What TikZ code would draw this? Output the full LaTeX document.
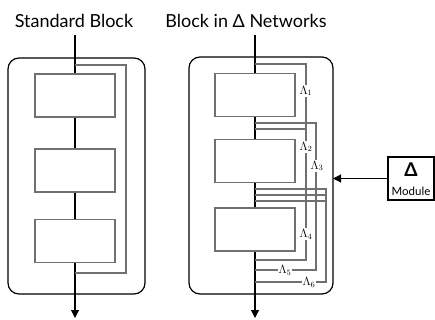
\documentclass[tikz,border=0pt]{standalone}
\usepackage{fontspec}
\setmainfont{Lato}
\usetikzlibrary{arrows.meta}
\definecolor{lg}{HTML}{707070}
\begin{document}
\begin{tikzpicture}[x=1pt,y=-1pt,
  mainline/.style={draw=black,line width=1.1pt},
  flow/.style={mainline,-{Triangle[length=8pt,width=8pt]}},
  panel/.style={draw=black,line width=1.2pt,rounded corners=11pt},
  layerbox/.style={draw=lg,fill=white,line width=1.4pt,minimum width=80pt,minimum height=43pt,inner sep=0pt},
  skip/.style={draw=lg,line width=1.3pt},
  lam/.style={fill=white,inner sep=1pt,font=\fontsize{11.5}{11.5}\selectfont},
  title/.style={anchor=base,font=\fontsize{18}{18}\selectfont},
  modbox/.style={draw=black,fill=white,line width=1.1pt,minimum width=46pt,minimum height=43pt,inner sep=0pt}
]
\useasboundingbox (0,0) rectangle (435,320);

% titles
\node[title] (t1) at (74,28) {Standard Block};
\node[title] (t2) at (246,28) {Block in Δ Networks};

% ---------- left panel ----------
\draw[panel] (8,58) rectangle (145,294);
\coordinate (lin) at (75,35);
\coordinate (lout) at (75,318);
\draw[flow] (lin) -- (lout);
\coordinate (ls0) at (75,65);
\coordinate (ls1) at (75,273);
\draw[skip] (ls0) -- ++(51,0) |- (ls1);
\node[layerbox] (lb1) at (75,95.5) {};
\node[layerbox] (lb2) at (75,170.5) {};
\node[layerbox] (lb3) at (75,241) {};

% ---------- right panel ----------
\draw[panel] (189,57) rectangle (333,294);
\coordinate (rin) at (255,35);
\coordinate (rout) at (255,318);
\draw[flow] (rin) -- (rout);

\coordinate (r0) at (255,64);
\coordinate (r1a) at (255,123);
\coordinate (r1b) at (255,129);
\coordinate (r2a) at (255,189);
\coordinate (r2b) at (255,195);
\coordinate (r2c) at (255,201);
\coordinate (r3a) at (255,260);
\coordinate (r3b) at (255,270);
\coordinate (r3c) at (255,282);

\coordinate (v1t) at (306,64);
\coordinate (v1b) at (306,260);
\coordinate (v2t) at (316,123);
\coordinate (v2b) at (316,270);
\coordinate (v3t) at (326,189);
\coordinate (v3b) at (326,282);

\draw[skip] (r0) -- (v1t) -- (v1b) -- (r3a);
\draw[skip] (r1a) -- (v2t) -- (v2b) -- (r3b);
\draw[skip] (r1b) -- (v1t |- r1b);
\draw[skip] (r2a) -- (v3t) -- (v3b) -- (r3c);
\draw[skip] (r2b) -- (v3t |- r2b);
\draw[skip] (r2c) -- (v3t |- r2c);

\node[layerbox] (rb1) at (255,95) {};
\node[layerbox] (rb2) at (255,161) {};
\node[layerbox] (rb3) at (255,229.5) {};

\node[lam] (l1) at (306,91) {$\Lambda_1$};
\node[lam] (l2) at (306,147) {$\Lambda_2$};
\node[lam] (l3) at (317,166) {$\Lambda_3$};
\node[lam] (l4) at (306,234) {$\Lambda_4$};
\node[lam] (l5) at (285,270) {$\Lambda_5$};
\node[lam] (l6) at (309,282) {$\Lambda_6$};

% ---------- delta module ----------
\node[modbox] (mod) at (411,178.5) {};
\node[anchor=base,font=\bfseries\fontsize{19}{19}\selectfont] (md) at (411,176) {Δ};
\node[anchor=base,font=\fontsize{11.5}{12}\selectfont] (mt) at (411,195) {Module};
\coordinate (pr) at (333,178.5);
\draw[flow] (mod.west) -- (pr);
\end{tikzpicture}
\end{document}
